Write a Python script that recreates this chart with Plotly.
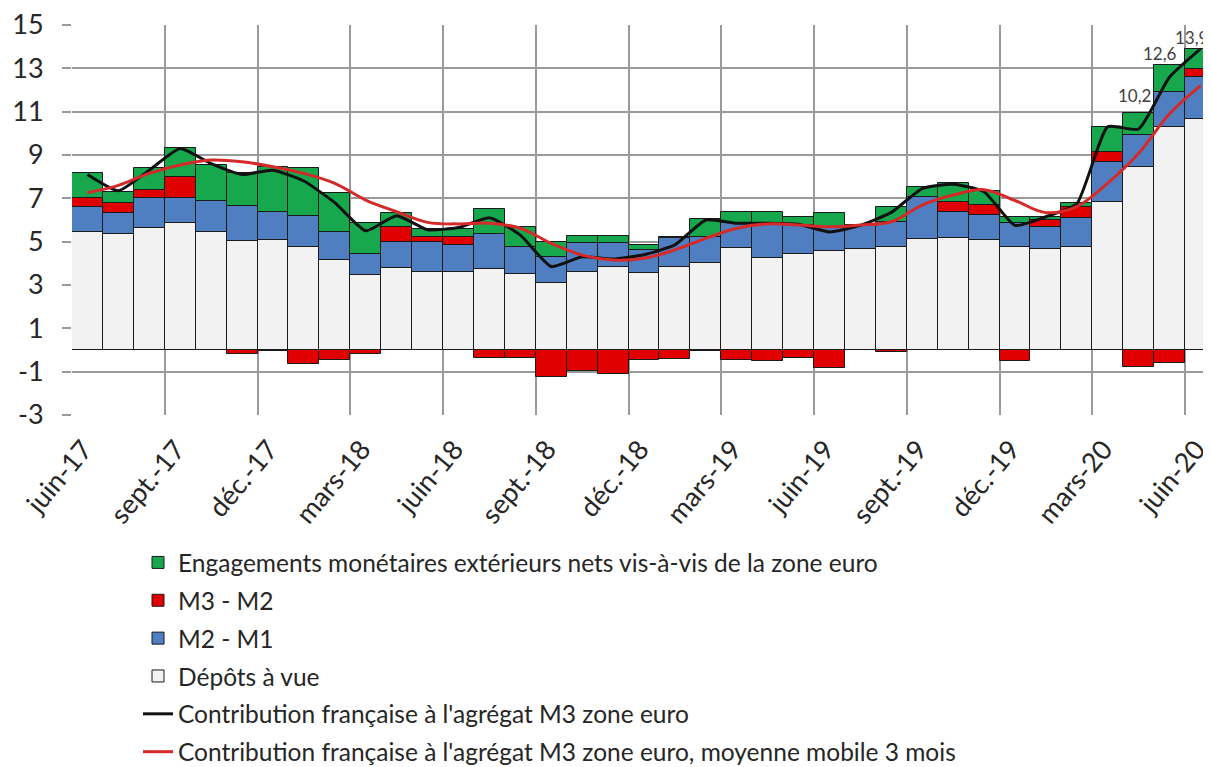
import plotly.graph_objects as go

# ---- data ----
months = ["juin-17", "juil.-17", "août-17", "sept.-17", "oct.-17", "nov.-17", "déc.-17",
          "janv.-18", "févr.-18", "mars-18", "avr.-18", "mai-18", "juin-18", "juil.-18",
          "août-18", "sept.-18", "oct.-18", "nov.-18", "déc.-18", "janv.-19", "févr.-19",
          "mars-19", "avr.-19", "mai-19", "juin-19", "juil.-19", "août-19", "sept.-19",
          "oct.-19", "nov.-19", "déc.-19", "janv.-20", "févr.-20", "mars-20", "avr.-20",
          "mai-20", "juin-20"]

depots_a_vue = [5.45, 5.35, 5.61, 5.88, 5.43, 5.05, 5.07, 4.77, 4.15, 3.48, 3.77, 3.62, 3.62,
                3.72, 3.50, 3.11, 3.62, 3.82, 3.57, 3.82, 4.03, 4.69, 4.23, 4.43, 4.58, 4.65,
                4.74, 5.11, 5.15, 5.07, 4.77, 4.65, 4.77, 6.85, 8.46, 10.28, 10.65]
m2_m1 = [1.17, 0.99, 1.39, 1.12, 1.45, 1.60, 1.31, 1.41, 1.31, 0.95, 1.23, 1.38, 1.23,
         1.63, 1.24, 1.20, 1.30, 1.10, 1.05, 1.33, 1.20, 1.16, 1.59, 1.34, 1.11, 1.10,
         1.18, 1.97, 1.23, 1.16, 1.08, 1.01, 1.31, 1.84, 1.46, 1.64, 1.97]
m3_m2 = [0.38, 0.43, 0.38, 1.00, 0.00, -0.18, -0.05, -0.65, -0.46, -0.18, 0.69, 0.20, 0.38,
         -0.38, -0.38, -1.23, -0.95, -1.10, -0.47, -0.42, -0.05, -0.47, -0.50, -0.38, -0.85,
         0.00, -0.08, 0.00, 0.47, 0.46, -0.49, 0.34, 0.54, 0.46, -0.80, -0.58, 0.33]
engagements = [1.15, 0.54, 1.00, 1.31, 1.66, 1.50, 2.08, 2.20, 1.80, 1.42, 0.65, 0.37, 0.34,
               1.14, 0.92, 0.69, 0.34, 0.34, 0.23, 0.05, 0.80, 0.50, 0.56, 0.38, 0.62, 0.00,
               0.66, 0.46, 0.84, 0.66, 0.30, 0.15, 0.18, 1.16, 1.00, 1.23, 0.93]
contribution_m3 = [8.10, 7.35, 8.30, 9.30, 8.60, 8.10, 8.30, 7.80, 6.80, 5.50, 6.20, 5.55,
                   5.65, 6.10, 5.30, 3.85, 4.30, 4.20, 4.40, 4.85, 6.00, 5.85, 5.85, 5.80,
                   5.45, 5.75, 6.35, 7.45, 7.65, 7.30, 5.75, 6.15, 6.75, 10.30, 10.20, 12.60,
                   13.90]
moyenne_mobile = [7.26, 7.60, 8.15, 8.54, 8.77, 8.69, 8.46, 8.15, 7.69, 6.92, 6.38, 5.89,
                  5.82, 5.85, 5.62, 4.92, 4.38, 4.15, 4.23, 4.62, 5.15, 5.62, 5.82, 5.77,
                  5.69, 5.77, 5.92, 6.69, 7.15, 7.40, 6.90, 6.34, 6.62, 7.70, 9.08, 10.90,
                  12.20]
labelled_months = ["avr.-20", "mai-20", "juin-20"]
labelled_texts = ["10,2", "12,6", "13,9"]
tick_months = ["juin-17", "sept.-17", "déc.-17", "mars-18", "juin-18", "sept.-18", "déc.-18",
               "mars-19", "juin-19", "sept.-19", "déc.-19", "mars-20", "juin-20"]
y_ticks = [-3, -1, 1, 3, 5, 7, 9, 11, 13, 15]

# ---- positions: each month is one unit wide, bar centred at index + 0.5 ----
xc = [i + 0.5 for i in range(len(months))]
pos = {m: i + 0.5 for i, m in enumerate(months)}

FONT = "Lato, 'Open Sans', sans-serif"
TXT = "#262626"
outline = dict(color="#1a1a1a", width=1)

fig = go.Figure()
bar_specs = [
    ("Dépôts à vue", depots_a_vue, "#f2f2f2", 4),
    ("M2 - M1", m2_m1, "#4f7fc0", 3),
    ("M3 - M2", m3_m2, "#e00000", 2),
    ("Engagements monétaires extérieurs nets vis-à-vis de la zone euro", engagements, "#17a84e", 1),
]
for name, vals, col, rank in bar_specs:
    fig.add_trace(go.Bar(x=xc, y=vals, name=name, width=1.0,
                         marker=dict(color=col, line=outline),
                         legendrank=rank, legendgroup=name))

fig.add_trace(go.Scatter(x=xc, y=contribution_m3, mode="lines",
                         name="Contribution française à l'agrégat M3 zone euro",
                         line=dict(color="#111111", width=3, shape="spline", smoothing=0.5),
                         legendrank=5, legendgroup="black"))
fig.add_trace(go.Scatter(x=xc, y=moyenne_mobile, mode="lines",
                         name="Contribution française à l'agrégat M3 zone euro, moyenne mobile 3 mois",
                         line=dict(color="#d42a2a", width=3, shape="spline", smoothing=1.0),
                         legendrank=6, legendgroup="red"))

# data labels on the last three points of the black line
label_shifts = [(-4, 34), (-10, 24), (-9, 11)]
for m, t, (dx, dy) in zip(labelled_months, labelled_texts, label_shifts):
    fig.add_annotation(x=pos[m], y=contribution_m3[months.index(m)], text=t,
                       showarrow=False, xshift=dx, yshift=dy,
                       font=dict(family=FONT, size=17, color="#404040"))

# the page body has an 8px default margin, so the figure is sized to fit the window
W, H = 1203, 759
grid_col = "#9a9a9a"
fig.update_layout(
    width=W, height=H, autosize=False,
    margin=dict(l=64, r=0, t=17, b=352, autoexpand=False),
    paper_bgcolor="white", plot_bgcolor="white",
    barmode="relative", bargap=0,
    font=dict(family=FONT, color=TXT),
    showlegend=True,
    legend=dict(orientation="v", xref="container", yref="container",
                x=130 / W, xanchor="left", y=1 - 532 / H, yanchor="top",
                traceorder="grouped", tracegroupgap=3,
                font=dict(family=FONT, size=24.5, color=TXT),
                itemwidth=30, bgcolor="rgba(0,0,0,0)"),
    xaxis=dict(range=[0, 36.84], showgrid=False, zeroline=False, showline=False,
               automargin=False, ticklabeloverflow="allow", ticklabelstandoff=12,
               ticklabelshift=-4,
               tickmode="array", tickvals=[pos[m] for m in tick_months], ticktext=tick_months,
               tickangle=-50, ticks="", tickfont=dict(family=FONT, size=27, color=TXT),
               minor=dict(tick0=0, dtick=3, showgrid=True, gridcolor=grid_col, gridwidth=1.5)),
    yaxis=dict(range=[-3, 15], tickmode="array", tickvals=y_ticks,
               ticktext=[str(v) for v in y_ticks], automargin=False,
               ticklabeloverflow="allow",
               showgrid=True, gridcolor=grid_col, gridwidth=1.5, zeroline=False,
               ticks="outside", ticklen=9, tickcolor=grid_col, tickwidth=1.5,
               ticklabelstandoff=13,
               tickfont=dict(family=FONT, size=27, color=TXT)),
)

fig.write_html("out.html")
